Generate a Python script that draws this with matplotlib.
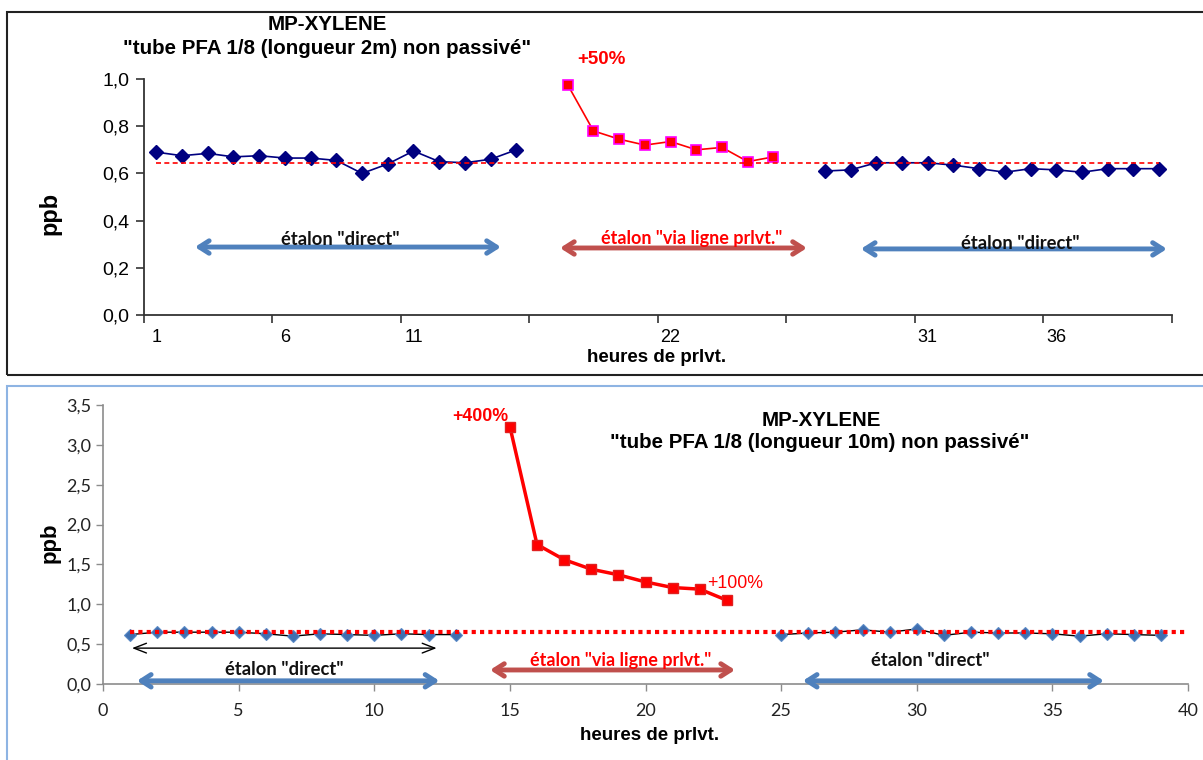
import numpy as np
import matplotlib
matplotlib.use("Agg")
import matplotlib.pyplot as plt
from matplotlib.patches import Rectangle

# ---- top chart (2 m tube) : category axis 1..40
top_x_direct1 = list(range(1, 16))
top_direct1 = [0.69, 0.675, 0.685, 0.67, 0.675, 0.665, 0.665, 0.655, 0.60, 0.64,
               0.695, 0.65, 0.645, 0.66, 0.70]
top_x_via = list(range(17, 26))
top_via = [0.975, 0.78, 0.745, 0.72, 0.735, 0.70, 0.71, 0.65, 0.67]
top_x_direct2 = list(range(27, 41))
top_direct2 = [0.61, 0.615, 0.645, 0.645, 0.645, 0.635, 0.62, 0.605, 0.62, 0.615,
               0.605, 0.62, 0.62, 0.62]
top_ref = 0.645
top_ticklabels = ["1", "6", "11", "22", "31", "36"]
top_ticklabel_pos = [1, 6, 11, 21, 31, 36]
top_yticks = [0.0, 0.2, 0.4, 0.6, 0.8, 1.0]

# ---- bottom chart (10 m tube)
bot_x_direct1 = list(range(1, 14))
bot_direct1 = [0.62, 0.65, 0.65, 0.65, 0.65, 0.63, 0.60, 0.63, 0.62, 0.61, 0.63, 0.62, 0.62]
bot_x_via = list(range(15, 24))
bot_via = [3.23, 1.75, 1.56, 1.44, 1.37, 1.28, 1.21, 1.19, 1.05]
bot_x_direct2 = list(range(25, 40))
bot_direct2 = [0.62, 0.64, 0.65, 0.68, 0.65, 0.69, 0.61, 0.65, 0.64, 0.64,
               0.63, 0.60, 0.63, 0.62, 0.61]
bot_ref = 0.648
bot_xticks = [0, 5, 10, 15, 20, 25, 30, 35, 40]
bot_yticks = [0.0, 0.5, 1.0, 1.5, 2.0, 2.5, 3.0, 3.5]

W, H = 1203, 760
ARIAL = ["Liberation Sans", "DejaVu Sans"]
CALIBRI = ["Lato", "DejaVu Sans"]
BLUE_ARROW = "#4F81BD"
RED_ARROW = "#C0504D"


def fx(x):
    return x / W


def fy(y):
    return 1 - y / H


def comma(v):
    return f"{v:.1f}".replace(".", ",")


def arrow(ax, x0, x1, y, color, lw=3.5, hl=0.7, hw=0.45):
    ax.annotate("", xy=(x1, y), xytext=(x0, y),
                arrowprops=dict(arrowstyle=f"<->,head_length={hl},head_width={hw}",
                                color=color, lw=lw, shrinkA=0, shrinkB=0),
                annotation_clip=False)


fig = plt.figure(figsize=(W / 100, H / 100), dpi=100)

# panel borders
fig.patches.append(Rectangle((fx(7), fy(375)), fx(1210) - fx(7), fy(12) - fy(375),
                             transform=fig.transFigure, fill=False, ec="#222222", lw=1.5))
fig.patches.append(Rectangle((fx(7), fy(790)), fx(1210) - fx(7), fy(386) - fy(790),
                             transform=fig.transFigure, fill=False, ec="#8EB4E3", lw=1.5))

# ================= top =================
ax1 = fig.add_axes([fx(143.5), fy(315), fx(1172) - fx(143.5), fy(79) - fy(315)])
ax1.plot(top_x_direct1, top_direct1, color="#000080", lw=1.2, marker="D", ms=7)
ax1.plot(top_x_direct2, top_direct2, color="#000080", lw=1.2, marker="D", ms=7)
ax1.plot(top_x_via, top_via, color="red", lw=1.2, marker="s", ms=6.5,
         mfc="red", mec="#FF00FF", mew=1.2)
ax1.plot([1, 40], [top_ref, top_ref], color="red", lw=1.2, ls=(0, (3, 2)))
ax1.set_xlim(0.5, 40.5)
ax1.set_ylim(0, 1.0)
ax1.set_xticks(np.arange(0.5, 41, 5))
ax1.set_xticklabels([])
ax1.set_xticks(top_ticklabel_pos, top_ticklabels, minor=True)
ax1.tick_params(axis="x", which="minor", length=0, pad=10, labelsize=13)
ax1.tick_params(axis="x", which="major", length=6, width=1.2, color="#333333")
ax1.set_yticks(top_yticks, [comma(v) for v in top_yticks])
ax1.tick_params(axis="y", length=6, width=1.2, color="#333333", labelsize=14, pad=4)
for lab in ax1.get_xticklabels(minor=True) + ax1.get_yticklabels():
    lab.set_family(ARIAL)
for s in ["top", "right"]:
    ax1.spines[s].set_visible(False)
for s in ["left", "bottom"]:
    ax1.spines[s].set_color("#333333")
    ax1.spines[s].set_linewidth(1.3)

arrow(ax1, 2.5, 14.4, 0.288, BLUE_ARROW)
arrow(ax1, 16.7, 26.3, 0.284, RED_ARROW)
arrow(ax1, 28.4, 40.3, 0.280, BLUE_ARROW)
ax1.text(8.15, 0.322, 'étalon "direct"', ha="center", va="center", fontsize=13.2,
         weight="bold", family=CALIBRI, color="#111111")
ax1.text(21.8, 0.326, 'étalon "via ligne prlvt."', ha="center", va="center", fontsize=13,
         weight="bold", family=CALIBRI, color="red")
ax1.text(34.6, 0.305, 'étalon "direct"', ha="center", va="center", fontsize=13.2,
         weight="bold", family=CALIBRI, color="#111111")

fig.text(fx(327), fy(25), "MP-XYLENE", ha="center", va="center", fontsize=14.8,
         weight="bold", family=ARIAL)
fig.text(fx(327), fy(48), '"tube PFA 1/8 (longueur 2m) non passivé"', ha="center",
         va="center", fontsize=14.8, weight="bold", family=ARIAL)
fig.text(fx(601), fy(60), "+50%", ha="center", va="center", fontsize=13.5,
         weight="bold", family=ARIAL, color="red")
fig.text(fx(50), fy(213), "ppb", ha="center", va="center", rotation=90, fontsize=17,
         weight="bold", family=ARIAL)
fig.text(fx(657), fy(358), "heures de prlvt.", ha="center", va="center", fontsize=13.5,
         weight="bold", family=ARIAL)

# ================= bottom =================
ax2 = fig.add_axes([fx(103), fy(684), fx(1188) - fx(103), fy(405) - fy(684)])
ax2.plot(bot_x_direct1, bot_direct1, color="black", lw=1, marker="D", ms=6.5,
         mfc="#3F6FB0", mec="#5A8AC6", mew=0.8)
ax2.plot(bot_x_direct2, bot_direct2, color="black", lw=1, marker="D", ms=6.5,
         mfc="#3F6FB0", mec="#5A8AC6", mew=0.8)
ax2.plot(bot_x_via, bot_via, color="red", lw=2.5, marker="s", ms=7.5,
         mfc="red", mec="#E02020")
ax2.plot([1, 40], [bot_ref, bot_ref], color="red", lw=3, ls=(0, (1, 1)))
ax2.set_xlim(0, 40)
ax2.set_ylim(0, 3.5)
ax2.set_xticks(bot_xticks, [str(v) for v in bot_xticks])
ax2.set_yticks(bot_yticks, [comma(v) for v in bot_yticks])
ax2.tick_params(axis="both", length=5, width=1, color="#8C8C8C", labelsize=13,
                labelcolor="#222222")
ax2.tick_params(axis="x", pad=9)
for lab in ax2.get_xticklabels() + ax2.get_yticklabels():
    lab.set_family(CALIBRI)
for s in ["top", "right"]:
    ax2.spines[s].set_visible(False)
for s in ["left", "bottom"]:
    ax2.spines[s].set_color("#8C8C8C")
    ax2.spines[s].set_linewidth(1.2)

arrow(ax2, 1.07, 12.3, 0.45, "black", lw=1, hl=0.9, hw=0.35)
arrow(ax2, 1.25, 12.4, 0.04, BLUE_ARROW)
arrow(ax2, 14.27, 23.3, 0.176, RED_ARROW)
arrow(ax2, 25.8, 36.9, 0.04, BLUE_ARROW)
ax2.text(6.67, 0.176, 'étalon "direct"', ha="center", va="center", fontsize=13.2,
         weight="bold", family=CALIBRI, color="#111111")
ax2.text(19.1, 0.30, 'étalon "via ligne prlvt."', ha="center", va="center", fontsize=13,
         weight="bold", family=CALIBRI, color="red")
ax2.text(30.5, 0.30, 'étalon "direct"', ha="center", va="center", fontsize=13.2,
         weight="bold", family=CALIBRI, color="#111111")
ax2.text(13.9, 3.354, "+400%", ha="center", va="center", fontsize=12.8,
         weight="bold", family=ARIAL, color="red")
ax2.text(23.29, 1.263, "+100%", ha="center", va="center", fontsize=12.8,
         family=ARIAL, color="red")

fig.text(fx(821), fy(420), "MP-XYLENE", ha="center", va="center", fontsize=14.8,
         weight="bold", family=ARIAL)
fig.text(fx(820), fy(443), '"tube PFA 1/8 (longueur 10m) non passivé"', ha="center",
         va="center", fontsize=14.8, weight="bold", family=ARIAL)
fig.text(fx(50), fy(543), "ppb", ha="center", va="center", rotation=90, fontsize=16,
         weight="bold", family=ARIAL)
fig.text(fx(650), fy(735), "heures de prlvt.", ha="center", va="center", fontsize=13.5,
         weight="bold", family=ARIAL)

fig.savefig("out.png", dpi=100)
